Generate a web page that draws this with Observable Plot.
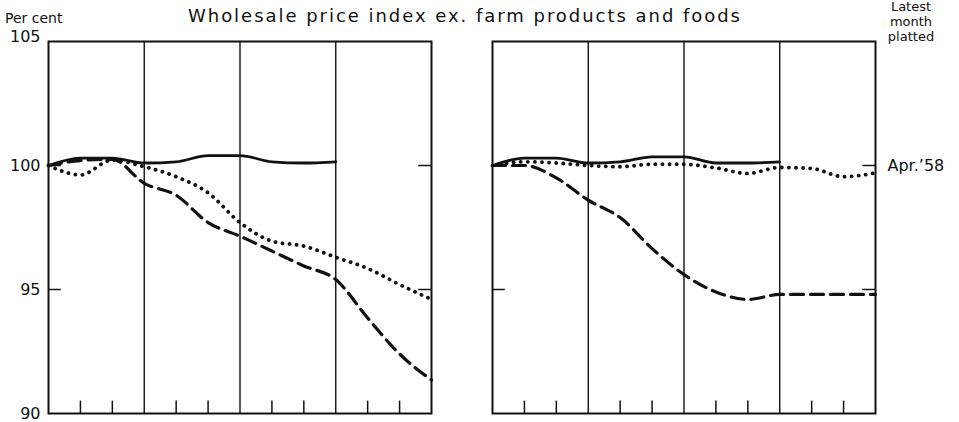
<!DOCTYPE html>
<html><head><meta charset="utf-8">
<script src="https://cdn.jsdelivr.net/npm/d3@7"></script>
<script src="https://cdn.jsdelivr.net/npm/@observablehq/plot@0.6"></script>
<style>body{margin:0;background:#fff} #chart{width:959px;height:422px}</style>
</head><body><div id="chart"></div>
<script>
// ---- data ----
const panels = ["left", "right"];
const months = [0,1,2,3,4,5,6,7,8,9,10,11,12];
const gridMonths = [3, 6, 9];
const minorTicks = [1, 2, 4, 5, 7, 8, 10, 11];
const yTicks = [90, 95, 100];
const yTop = 105;
const leftSolid  = [100, 100.3, 100.3, 100.1, 100.15, 100.4, 100.4, 100.15, 100.1, 100.15];
const leftDotted = [100, 99.62, 100.22, 99.95, 99.55, 98.9, 97.7, 96.95, 96.75, 96.3, 95.85, 95.2, 94.6];
const leftDashed = [100, 100.2, 100.25, 99.28, 98.8, 97.7, 97.15, 96.55, 95.95, 95.4, 93.85, 92.4, 91.35];
const rightSolid  = [100, 100.3, 100.3, 100.1, 100.15, 100.35, 100.35, 100.1, 100.1, 100.15];
const rightDotted = [100, 100.15, 100.1, 100.0, 99.95, 100.05, 100.05, 99.9, 99.68, 99.92, 99.88, 99.55, 99.7];
const rightDashed = [100, 100, 99.5, 98.6, 97.9, 96.65, 95.6, 94.9, 94.6, 94.8, 94.8, 94.8, 94.8];
const latestLabel = "Apr.\u201958";
const titleText = "Wholesale price index ex. farm products and foods";
const unitText = "Per cent";
const latestHead = ["Latest", "month", "platted"];

const toRows = (panel, series, vals) => vals.map((v, i) => ({panel, series, x: months[i], v}));
const rows = [
  ...toRows("left", "solid", leftSolid), ...toRows("left", "dotted", leftDotted), ...toRows("left", "dashed", leftDashed),
  ...toRows("right", "solid", rightSolid), ...toRows("right", "dotted", rightDotted), ...toRows("right", "dashed", rightDashed)
];
const ink = "#111";
const font = "DejaVu Sans";
const lineOpts = (s) => ({filter: d => d.series === s, x: "x", y: "v", fx: "panel", z: "panel", curve: "monotone-x", stroke: ink});

const plot = Plot.plot({
  width: 959, height: 422,
  marginLeft: 48, marginRight: 84, marginTop: 41, marginBottom: 9,
  style: {fontFamily: font, fontSize: "16px", color: ink, background: "#fff", overflow: "visible"},
  fx: {domain: panels, paddingInner: 0.1374, paddingOuter: 0, axis: null, label: null},
  x: {domain: [0, 12], axis: null},
  y: {domain: [90, yTop], axis: null},
  marks: [
    Plot.ruleX(gridMonths, {stroke: ink, strokeWidth: 1.4}),
    Plot.ruleX(minorTicks, {y1: 90, y2: 90.5, stroke: ink, strokeWidth: 1.5}),
    Plot.ruleY([95, 100], {x1: 0, x2: 0.4, stroke: ink, strokeWidth: 1.5}),
    Plot.ruleY([95, 100], {x1: 11.6, x2: 12, stroke: ink, strokeWidth: 1.5}),
    Plot.frame({stroke: ink, strokeWidth: 2}),
    Plot.line(rows, {...lineOpts("solid"), strokeWidth: 2.8}),
    Plot.line(rows, {...lineOpts("dotted"), strokeWidth: 3.8, strokeDasharray: "0.1,7", strokeLinecap: "round"}),
    Plot.line(rows, {...lineOpts("dashed"), strokeWidth: 3.2, strokeDasharray: "13,7"}),
    Plot.text(yTicks.map(v => ({panel: "left", v})), {fx: "panel", y: "v", text: d => String(d.v), frameAnchor: "left", textAnchor: "end", dx: -8, fontSize: 16, fill: ink}),
    Plot.text([{panel: "left", v: yTop}], {fx: "panel", y: "v", text: d => String(d.v), frameAnchor: "left", textAnchor: "end", dx: -8, dy: -5, fontSize: 16, fill: ink}),
    Plot.text([{panel: "right", v: 100}], {fx: "panel", y: "v", text: () => latestLabel, frameAnchor: "right", textAnchor: "start", dx: 12, fontSize: 16, fill: ink})
  ]
});

const svg = d3.select(plot);
const addText = (t, x, y, size, anchor, extra) => {
  const el = svg.append("text").attr("x", x).attr("y", y).attr("text-anchor", anchor)
    .style("font-size", size + "px").style("font-family", font).attr("fill", ink).text(t);
  if (extra) extra(el);
  return el;
};
addText(titleText, 188, 22, 18, "start", el => el.attr("textLength", 552).attr("lengthAdjust", "spacing"));
addText(unitText, 5, 23, 14, "start");
latestHead.forEach((t, i) => addText(t, 911, 11 + i * 15, 13, "middle"));
document.getElementById("chart").appendChild(plot);
</script></body></html>
